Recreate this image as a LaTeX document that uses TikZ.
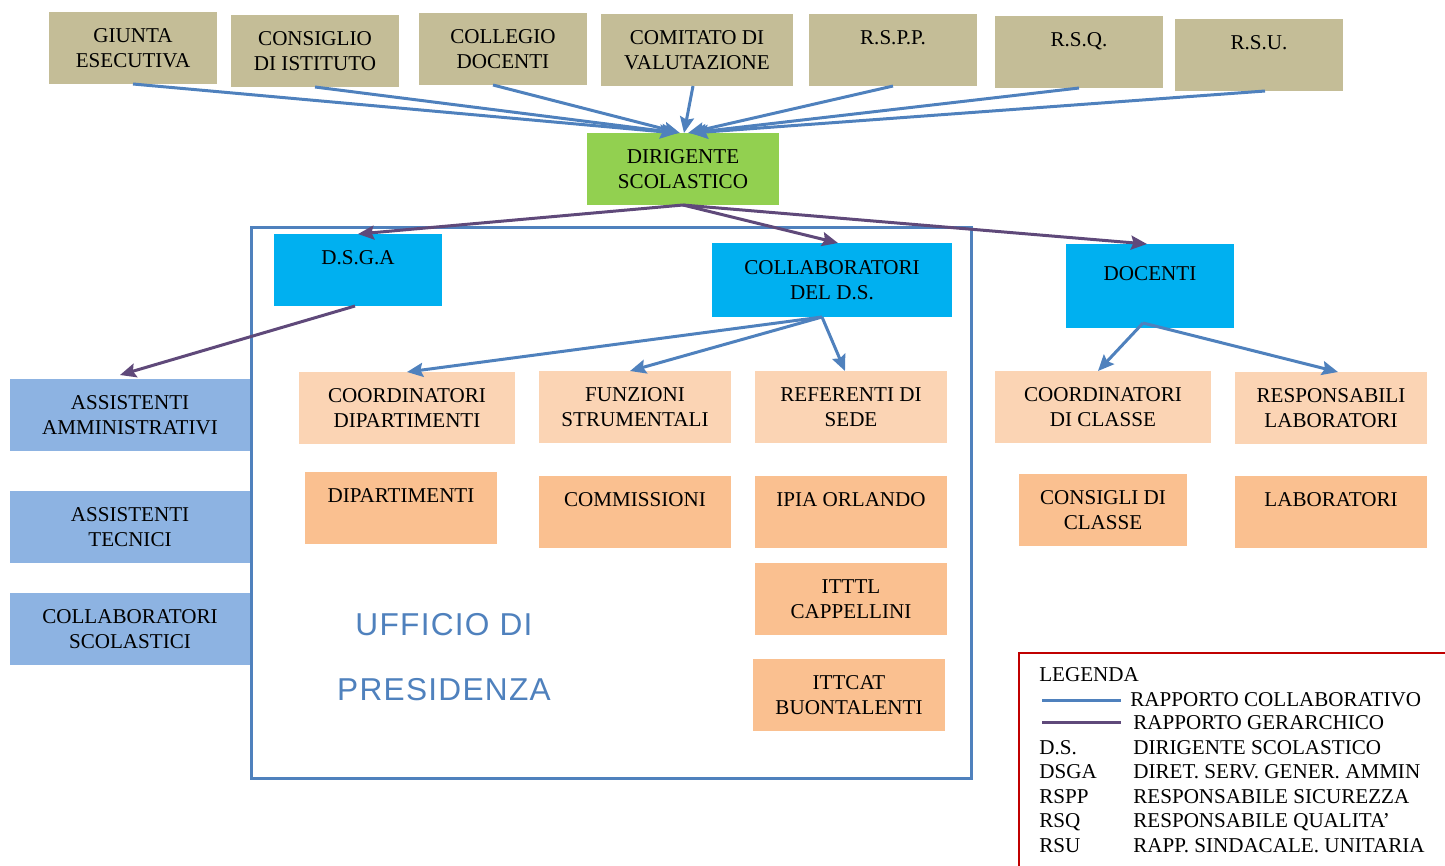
\documentclass[tikz,border=0pt]{standalone}
\usepackage{fontspec}
\setmainfont{Liberation Serif}
\newfontfamily\presfont[LetterSpace=4]{Liberation Sans}
\usetikzlibrary{arrows.meta}
\definecolor{khaki}{RGB}{196,189,151}
\definecolor{leafgreen}{RGB}{146,208,80}
\definecolor{cyanbox}{RGB}{0,176,240}
\definecolor{skyblue}{RGB}{141,179,226}
\definecolor{peach}{RGB}{251,212,180}
\definecolor{apricot}{RGB}{250,192,144}
\definecolor{linkblue}{RGB}{79,129,189}
\definecolor{plum}{RGB}{95,73,122}
\definecolor{legendred}{RGB}{192,0,0}

\begin{document}
\begin{tikzpicture}[x=0.2mm, y=-0.2mm]
\tikzstyle{box} = [rectangle, inner sep=0pt, outer sep=0pt, align=center, font=\fontsize{12}{14.2}\selectfont]
\tikzset{wh/.style 2 args={minimum width=#1*0.2mm, minimum height=#2*0.2mm}}
\tikzstyle{organo} = [box, fill=khaki, wh={168}{72}]
\tikzstyle{capo} = [box, fill=leafgreen, wh={192}{72}]
\tikzstyle{staff} = [box, fill=cyanbox]
\tikzstyle{ata} = [box, fill=skyblue, wh={240}{72}]
\tikzstyle{ruolo} = [box, fill=peach, wh={192}{72}]
\tikzstyle{gruppo} = [box, fill=apricot, wh={192}{72}]
\tikzstyle{collab} = [line width=0.6mm, draw=linkblue, -{Stealth[length=3.2mm, width=2.8mm, inset=0.5mm]}]
\tikzstyle{gerarc} = [line width=0.6mm, draw=plum, -{Stealth[length=3.2mm, width=2.8mm, inset=0.5mm]}]
\tikzstyle{voce} = [anchor=west, inner sep=0pt, font=\fontsize{12}{14.2}\selectfont]

\clip (0,0) rectangle (1445,865);

% ufficio di presidenza
\draw[linkblue, line width=0.6mm] (251,227) rectangle (971,778);
\node (ufficio) at (444,657) [align=center, text=linkblue, font=\presfont\fontsize{18}{37}\selectfont] {UFFICIO DI\\PRESIDENZA};

% organi collegiali
\node (giunta) at (133,48) [organo] {GIUNTA\\ESECUTIVA};
\node (consiglio) at (315,51) [organo] {CONSIGLIO\\DI ISTITUTO};
\node (collegio) at (503,49) [organo] {COLLEGIO\\DOCENTI};
\node (comitato) at (697,50) [organo, wh={192}{72}] {COMITATO DI\\VALUTAZIONE};
\node (rspp) at (893,50) [organo] {R.S.P.P.\\\phantom{X}};
\node (rsq) at (1079,52) [organo] {R.S.Q.\\\phantom{X}};
\node (rsu) at (1259,55) [organo] {R.S.U.\\\phantom{X}};

\node (ds) at (683,169) [capo] {DIRIGENTE\\SCOLASTICO};

\node (dsga) at (358,270) [staff, wh={168}{72}] {D.S.G.A\\\phantom{X}};
\node (collabds) at (832,280) [staff, wh={240}{74}] {COLLABORATORI\\DEL D.S.};
\node (docenti) at (1150,286) [staff, wh={168}{84}] {DOCENTI\\\phantom{X}};

% personale ata
\node (amministrativi) at (130,415) [ata] {ASSISTENTI\\AMMINISTRATIVI};
\node (tecnici) at (130,527) [ata] {ASSISTENTI\\TECNICI};
\node (collscol) at (130,629) [ata] {COLLABORATORI\\SCOLASTICI};

\node (coorddip) at (407,408) [ruolo, wh={216}{72}] {COORDINATORI\\DIPARTIMENTI};
\node (funzioni) at (635,407) [ruolo] {FUNZIONI\\STRUMENTALI};
\node (referenti) at (851,407) [ruolo] {REFERENTI DI\\SEDE};
\node (coordcl) at (1103,407) [ruolo, wh={216}{72}] {COORDINATORI\\DI CLASSE};
\node (resplab) at (1331,408) [ruolo] {RESPONSABILI\\LABORATORI};

\node (dipartimenti) at (401,508) [gruppo] {DIPARTIMENTI\\\phantom{X}};
\node (commissioni) at (635,512) [gruppo] {COMMISSIONI\\\phantom{X}};
\node (ipia) at (851,512) [gruppo] {IPIA ORLANDO\\\phantom{X}};
\node (consclasse) at (1103,510) [gruppo, wh={168}{72}] {CONSIGLI DI\\CLASSE};
\node (laboratori) at (1331,512) [gruppo] {LABORATORI\\\phantom{X}};
\node (itttl) at (851,599) [gruppo] {ITTTL\\CAPPELLINI};
\node (ittcat) at (849,695) [gruppo] {ITTCAT\\BUONTALENTI};

% rapporti collaborativi
\draw [collab] (giunta.south) -- ([xshift=-1.4mm]ds.north);
\draw [collab] (consiglio.south) -- ([xshift=-1.0mm]ds.north);
\draw [collab] ([xshift=-2mm]collegio.south) -- ([xshift=-0.6mm]ds.north);
\draw [collab] ([xshift=-0.8mm]comitato.south) -- ([xshift=0.2mm]ds.north);
\draw [collab] (rspp.south) -- ([xshift=1.0mm]ds.north);
\draw [collab] (rsq.south) -- ([xshift=1.4mm]ds.north);
\draw [collab] ([xshift=1.2mm]rsu.south) -- ([xshift=1.8mm]ds.north);

\draw [collab] ([xshift=-2mm]collabds.south) -- (coorddip.north);
\draw [collab] ([xshift=-2mm]collabds.south) -- ([xshift=-1mm]funzioni.north);
\draw [collab] ([xshift=-2mm]collabds.south) -- ([xshift=-1.2mm]referenti.north);
\draw [collab] ([xshift=-1.4mm,yshift=1mm]docenti.south) -- ([xshift=-1mm]coordcl.north);
\draw [collab] ([xshift=-1.4mm,yshift=1mm]docenti.south) -- ([xshift=1.4mm]resplab.north);

% rapporti gerarchici
\draw [gerarc] (ds.south) -- (dsga.north);
\draw [gerarc] (ds.south) -- ([xshift=1.2mm]collabds.north);
\draw [gerarc] (ds.south) -- ([xshift=-0.6mm]docenti.north);
\draw [gerarc] ([xshift=-0.6mm]dsga.south) -- ([xshift=-2mm,yshift=0.8mm]amministrativi.north);

% legenda
\draw [legendred, line width=0.3mm] (1019,653) rectangle (1500,900);
\node (legenda) at (1039,675) [voce] {LEGENDA};
\coordinate (bluA) at (1042,700);
\coordinate (bluB) at (1121,700);
\coordinate (violaA) at (1042,722);
\coordinate (violaB) at (1121,722);
\draw [linkblue, line width=0.6mm] (bluA) -- (bluB);
\draw [plum, line width=0.6mm] (violaA) -- (violaB);
\node (lcollab) at (1130,700) [voce] {RAPPORTO COLLABORATIVO};
\node (lgerarc) at (1133,723) [voce] {RAPPORTO GERARCHICO};
\node (sigla1) at (1039,748) [voce] {D.S.};
\node (sigla2) at (1039,772) [voce] {DSGA};
\node (sigla3) at (1039,797) [voce] {RSPP};
\node (sigla4) at (1039,822) [voce] {RSQ};
\node (sigla5) at (1039,846) [voce] {RSU};
\node (testo1) at (1133,748) [voce] {DIRIGENTE SCOLASTICO};
\node (testo2) at (1133,772) [voce] {DIRET. SERV. GENER. AMMIN};
\node (testo3) at (1133,797) [voce] {RESPONSABILE SICUREZZA};
\node (testo4) at (1133,822) [voce] {RESPONSABILE QUALITA’};
\node (testo5) at (1133,846) [voce] {RAPP. SINDACALE. UNITARIA};
\end{tikzpicture}
\end{document}
